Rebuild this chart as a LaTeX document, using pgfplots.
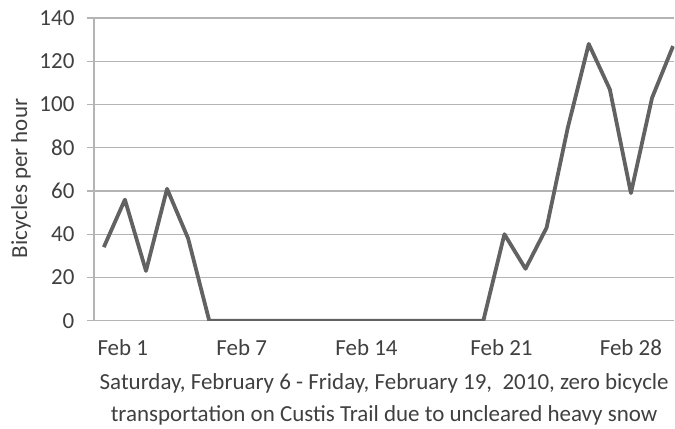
\documentclass[border=0pt]{standalone}
\usepackage{fontspec}
\setmainfont{Carlito}
\usepackage{pgfplots}
\pgfplotsset{compat=1.18}
\definecolor{lineC}{RGB}{98,98,98}
\definecolor{gridC}{RGB}{180,180,180}
\definecolor{textC}{RGB}{64,64,64}
\begin{document}
\begin{tikzpicture}
\begin{axis}[
    at={(0pt,0pt)}, anchor=south west,
    scale only axis, width=581pt, height=303pt,
    xmin=-0.47, xmax=27.06, ymin=0, ymax=140,
    ytick={0,20,...,140},
    xtick={0.9,6.54,12.46,18.86,25.0},
    xticklabels={Feb 1,Feb 7,Feb 14,Feb 21,Feb 28},
    ymajorgrids=true,
    grid style={gridC, line width=1.3pt},
    axis line style={gridC, line width=1.3pt},
    axis x line=bottom, axis y line=left,
    separate axis lines,
    x axis line style={draw=none},
    y axis line style={-},
    major x tick style={draw=none},
    major y tick style={gridC, line width=1.3pt},
    tick align=outside, major tick length=7pt,
    tick label style={font=\fontsize{23}{25}\selectfont, text=textC},
    /pgf/number format/assume math mode=true,
    yticklabel style={xshift=-9pt},
    xticklabel style={yshift=-8pt},
    ylabel={Bicycles per hour},
    ylabel style={font=\fontsize{23}{25}\selectfont, text=textC, at={(axis description cs:0,0.47)}, anchor=center, yshift=73pt},
    xlabel={Saturday, February 6 - Friday, February 19,\ \ 2010, zero bicycle\\transportation on Custis Trail due to uncleared heavy snow},
    xlabel style={font=\fontsize{23}{32}\selectfont, text=textC, align=center, yshift=-11pt},
    clip=true,
]
\draw[gridC, line width=1.3pt] (axis cs:-0.47,0) -- (axis cs:27.06,0);
\addplot[lineC, line width=3.8pt, line join=round] coordinates {
  (0,34) (1,56) (2,23) (3,61) (4,38) (5,0) (6,0) (7,0) (8,0) (9,0)
  (10,0) (11,0) (12,0) (13,0) (14,0) (15,0) (16,0) (17,0) (18,0)
  (19,40) (20,24) (21,43) (22,89) (23,128) (24,107) (25,59) (26,103) (27,127)
};
\end{axis}
\path (-94pt,-100pt) rectangle (581pt,321pt);
\end{tikzpicture}
\end{document}
